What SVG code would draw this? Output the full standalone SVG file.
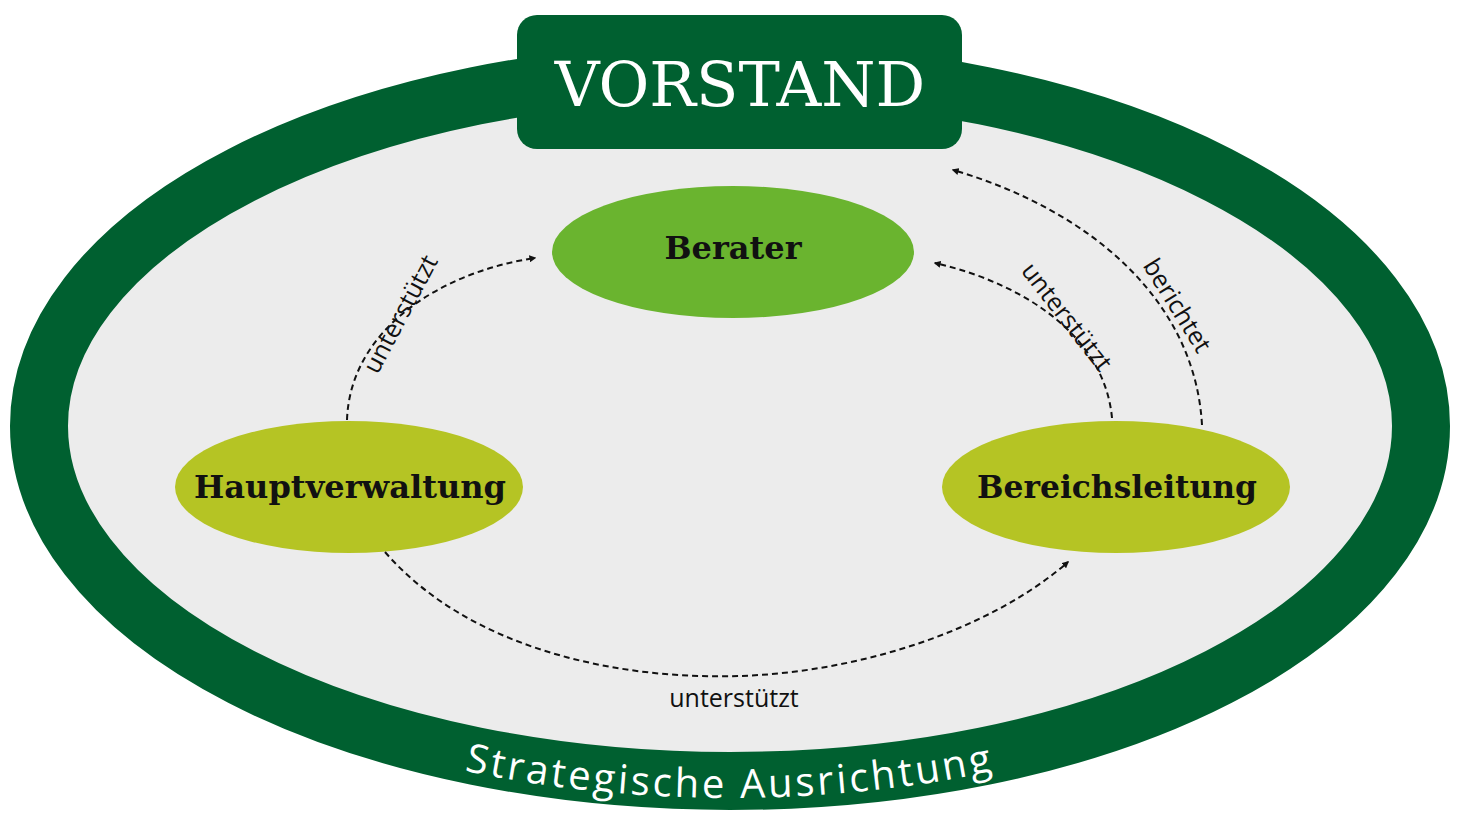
<svg xmlns="http://www.w3.org/2000/svg" width="1460" height="820" viewBox="0 0 1460 820">
<style>
.node{font-family:"DejaVu Serif","Liberation Serif",serif;font-weight:bold;font-size:32px;fill:#111;text-anchor:middle}
.lbl{font-family:"Open Sans","Liberation Sans",sans-serif;font-size:25px;fill:#111;text-anchor:middle}
.con{fill:none;stroke:#111;stroke-width:2;stroke-dasharray:6 4;marker-end:url(#ah)}
</style>
<defs>
<marker id="ah" viewBox="0 0 10 10" refX="8" refY="5" markerWidth="7" markerHeight="7" orient="auto" markerUnits="userSpaceOnUse">
<path d="M0,0 L10,5 L0,10 z" fill="#111"/>
</marker>
<marker id="ah2" viewBox="0 0 10 10" refX="8" refY="5" markerWidth="16" markerHeight="16" orient="auto" markerUnits="userSpaceOnUse"><path d="M0,0 L10,5 L0,10 z" fill="#111"/></marker>
<path id="arc" d="M22,426 A708,372 0 0 0 1438,426"/>
</defs>
<g id="frame">
<ellipse cx="730" cy="426" rx="691" ry="355" fill="#ececec" stroke="#006030" stroke-width="58"/>
<text font-family="Open Sans,Liberation Sans,sans-serif" font-size="40" fill="#fff" letter-spacing="3" text-anchor="middle"><textPath href="#arc" startOffset="50%">Strategische Ausrichtung</textPath></text>
</g>
<g id="vorstand">
<rect x="517" y="15" width="445" height="134" rx="20" fill="#006030"/>
<text x="740" y="106" font-family="DejaVu Serif,Liberation Serif,serif" font-size="62" fill="#fff" text-anchor="middle">VORSTAND</text>
</g>
<g id="berater">
<ellipse cx="733" cy="252" rx="181" ry="66" fill="#6ab42f"/>
<text class="node" x="733" y="259">Berater</text>
</g>
<g id="hauptverwaltung">
<ellipse cx="349" cy="487" rx="174" ry="66" fill="#b5c424"/>
<text class="node" x="350" y="498" textLength="312" lengthAdjust="spacingAndGlyphs">Hauptverwaltung</text>
</g>
<g id="bereichsleitung">
<ellipse cx="1116" cy="487" rx="174" ry="66" fill="#b5c424"/>
<text class="node" x="1117" y="498" textLength="280" lengthAdjust="spacingAndGlyphs">Bereichsleitung</text>
</g>
<g id="connectors">
<path class="con" marker-end="url(#ah2)" d="M347,420 C350,330 440,272 535,258"/>
<path class="con" marker-end="url(#ah2)" d="M1112,418 C1105,340 1030,285 935,263"/>
<path class="con" marker-end="url(#ah2)" d="M1202,425 C1195,300 1090,210 953,170"/>
<path class="con" marker-end="url(#ah2)" d="M385,552 C470,650 620,680 740,676 C860,672 990,630 1068,562"/>
<text class="lbl" transform="translate(408,318) rotate(-62)">unterstützt</text>
<text class="lbl" transform="translate(1060,322) rotate(52)">unterstützt</text>
<text class="lbl" transform="translate(1170,310) rotate(58)">berichtet</text>
<text class="lbl" x="734" y="707">unterstützt</text>
</g>
</svg>
